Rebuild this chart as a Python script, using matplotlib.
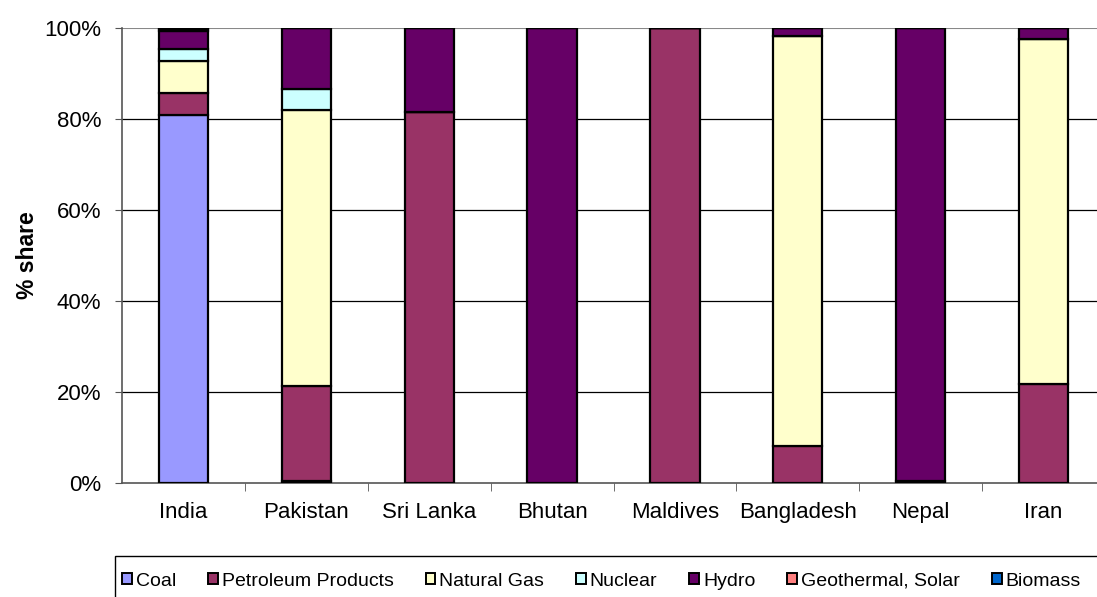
import numpy as np
import matplotlib.pyplot as plt
from matplotlib.patches import Patch, Rectangle

plt.rcParams['font.family'] = ['Liberation Sans', 'DejaVu Sans']

countries = ['India', 'Pakistan', 'Sri Lanka', 'Bhutan', 'Maldives', 'Bangladesh', 'Nepal', 'Iran']
sources = ['Coal', 'Petroleum Products', 'Natural Gas', 'Nuclear', 'Hydro', 'Geothermal, Solar', 'Biomass']
colors = ['#9999FF', '#993366', '#FFFFCC', '#CCFFFF', '#660066', '#FF8080', '#0066CC']

# % share per source, one list per source (order follows countries)
coal       = [80.9, 0.5, 0.0, 0.0, 0.0, 0.0, 0.0, 0.0]
petroleum  = [4.9, 20.8, 81.6, 0.0, 100.0, 8.1, 0.5, 21.7]
gas        = [7.0, 60.7, 0.0, 0.0, 0.0, 90.1, 0.0, 75.8]
nuclear    = [2.5, 4.5, 0.0, 0.0, 0.0, 0.0, 0.0, 0.0]
hydro      = [4.0, 13.5, 18.4, 100.0, 0.0, 1.8, 99.5, 2.5]
geothermal = [0.4, 0.0, 0.0, 0.0, 0.0, 0.0, 0.0, 0.0]
biomass    = [0.3, 0.0, 0.0, 0.0, 0.0, 0.0, 0.0, 0.0]
series = [coal, petroleum, gas, nuclear, hydro, geothermal, biomass]

fig = plt.figure(figsize=(10.97, 5.97), dpi=100)
ax = fig.add_axes([122/1097, 1-483/597, 983/1097, 455/597])

x = np.arange(len(countries))
bottom = np.zeros(len(countries))
for vals, c in zip(series, colors):
    v = np.array(vals)
    ax.bar(x, v, 0.4, bottom=bottom, color=c, edgecolor='black', linewidth=1.6, zorder=3)
    bottom += v

ax.set_xlim(-0.5, len(countries) - 0.5)
ax.set_ylim(0, 100)
ax.set_yticks(np.arange(0, 101, 20))
ax.set_yticklabels([f'{t}%' for t in range(0, 101, 20)], fontsize=16)
for t in range(20, 100, 20):
    ax.axhline(t, color='black', lw=0.9, zorder=1)
ax.axhline(100, color='#888888', lw=1.5, zorder=1)

ax.set_xticks(x)
ax.set_xticklabels(countries, fontsize=16)
ax.tick_params(axis='x', which='major', length=0, pad=14)
ax.set_xticks(np.arange(0.5, len(countries) - 0.5, 1), minor=True)
ax.tick_params(axis='x', which='minor', length=6, direction='out', color='#555555')
ax.tick_params(axis='y', length=5, direction='out', color='#555555', pad=10)

for s in ['top', 'right']:
    ax.spines[s].set_visible(False)
ax.spines['left'].set_color('#555555')
ax.spines['bottom'].set_color('#555555')
ax.spines['left'].set_linewidth(1.2)
ax.spines['bottom'].set_linewidth(1.2)

ax.set_ylabel('% share', fontsize=16.5, fontweight='bold', labelpad=4)

# legend box runs off the right and bottom edges, as in the source
fig.add_artist(Rectangle((115/1097, -0.1), 1.0, 1-556/597+0.1, transform=fig.transFigure,
                         fill=False, edgecolor='black', lw=1.0))
handles = [Patch(facecolor=c, edgecolor='black', linewidth=1.4) for c in colors]
fig.legend(handles, sources, loc='center left', bbox_to_anchor=(122/1097, 1-581/597),
           ncol=7, fontsize=14, frameon=False,
           handlelength=0.5, handleheight=0.5, handletextpad=0.2, columnspacing=1.65,
           borderpad=0, borderaxespad=0)

fig.savefig('out.png', dpi=100)
